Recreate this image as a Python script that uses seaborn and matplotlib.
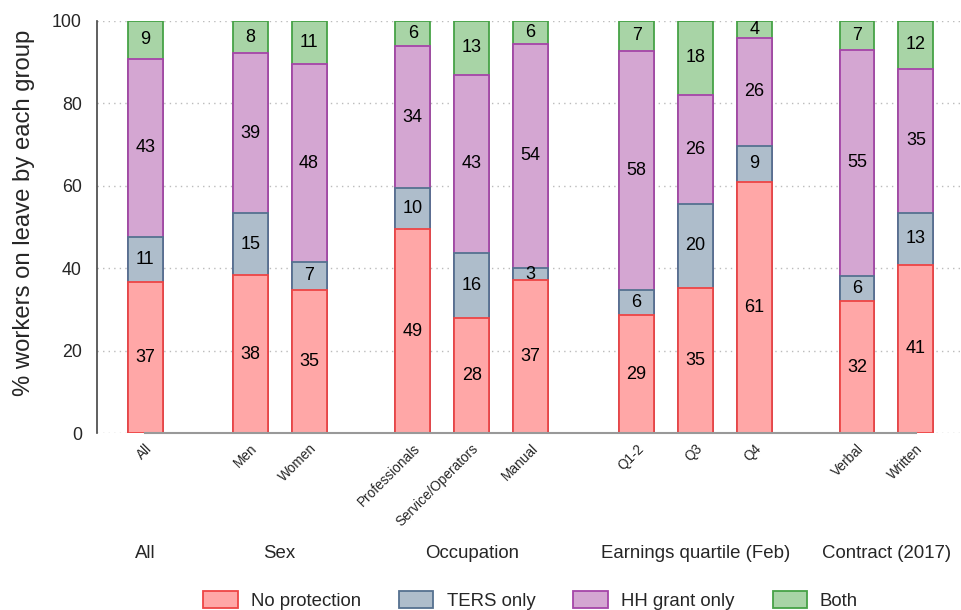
import numpy as np
import pandas as pd
import matplotlib.pyplot as plt
import seaborn as sns

# Categories and their groups
categories = ['All', 'Men', 'Women', 'Professionals', 'Service/Operators', 'Manual',
              'Q1-2', 'Q3', 'Q4', 'Verbal', 'Written']
positions = [0, 1.78, 2.78, 4.54, 5.54, 6.54, 8.34, 9.34, 10.34, 12.08, 13.08]
groups = ['All', 'Sex', 'Occupation', 'Earnings quartile (Feb)', 'Contract (2017)']
group_members = [[0], [1, 2], [3, 4, 5], [6, 7, 8], [9, 10]]

# Shares (%)
no_protection = [36.6, 38.3, 34.7, 49.4, 27.9, 37.1, 28.6, 35.2, 60.9, 32.0, 40.8]
ters_only = [11.0, 15.1, 6.8, 10.1, 15.8, 2.9, 6.2, 20.4, 8.8, 6.1, 12.6]
hh_grant_only = [43.2, 38.7, 47.9, 34.3, 43.2, 54.4, 57.9, 26.4, 26.2, 54.9, 34.9]
both = [9.2, 7.9, 10.6, 6.2, 13.1, 5.6, 7.3, 18.0, 4.1, 7.0, 11.7]

series_names = ['No protection', 'TERS only', 'HH grant only', 'Both']
series_values = [no_protection, ters_only, hh_grant_only, both]
fills = ['#ffa7a7', '#aebdcb', '#d4a6d2', '#a8d4a6']
edges = ['#ee4545', '#557190', '#a545a8', '#46a246']

sns.set_style('white')
plt.rcParams['font.family'] = ['Liberation Sans', 'DejaVu Sans']

fig = plt.figure(figsize=(9.61, 6.10), dpi=100)
ax = fig.add_axes([0.101, 0.290, 0.898, 0.676])

df = pd.DataFrame({'pos': positions})
values = np.array(series_values)
tops = np.cumsum(values, axis=0)
bottoms = tops - values

# draw cumulative bars from the top layer down so they look stacked
for i in range(len(series_names) - 1, -1, -1):
    df['top'] = tops[i]
    sns.barplot(data=df, x='pos', y='top', native_scale=True, width=0.59,
                color=fills[i], edgecolor=edges[i], linewidth=1.3,
                saturation=1, ax=ax, zorder=2)

for i in range(len(series_names)):
    for j, p in enumerate(positions):
        ax.text(p, bottoms[i][j] + values[i][j] / 2, f'{values[i][j]:.0f}',
                ha='center', va='center', fontsize=13, color='black', zorder=3)

ax.set_xlim(-0.82, 13.83)
ax.set_ylim(0, 100)
ax.set_yticks(range(0, 101, 20))
ax.tick_params(axis='y', length=8, width=1.2, color='#444444', labelsize=12.8, pad=3)
ax.set_xticks(positions)
ax.set_xticklabels(categories, rotation=45, ha='right', rotation_mode='anchor', fontsize=9.8)
ax.tick_params(axis='x', length=0, pad=6)
ax.set_xlabel('')
ax.set_ylabel('% workers on leave by each group', fontsize=17.2, labelpad=12, y=0.535)

ax.yaxis.grid(True, linestyle=(0, (1, 3)), color='#bbbbbb', linewidth=1)
ax.set_axisbelow(True)
for s in ['top', 'right']:
    ax.spines[s].set_visible(False)
ax.spines['left'].set_color('#444444')
ax.spines['left'].set_linewidth(1.2)
ax.spines['bottom'].set_color('#999999')
ax.spines['bottom'].set_linewidth(1.5)
ax.spines['bottom'].set_bounds(positions[0], positions[-1])

for name, members in zip(groups, group_members):
    center = np.mean([positions[m] for m in members])
    ax.text(center, -0.291, name, transform=ax.get_xaxis_transform(),
            ha='center', va='center', fontsize=13.4)

handles = [plt.Rectangle((0, 0), 1, 1, facecolor=f, edgecolor=e, linewidth=1.3)
           for f, e in zip(fills, edges)]
ax.legend(handles, series_names, loc='center', bbox_to_anchor=(0.5025, -0.405),
          ncol=4, frameon=False, fontsize=13.4, handlelength=1.85, handleheight=1.05,
          columnspacing=2.05, handletextpad=0.7)

fig.savefig('out.png', dpi=100)
